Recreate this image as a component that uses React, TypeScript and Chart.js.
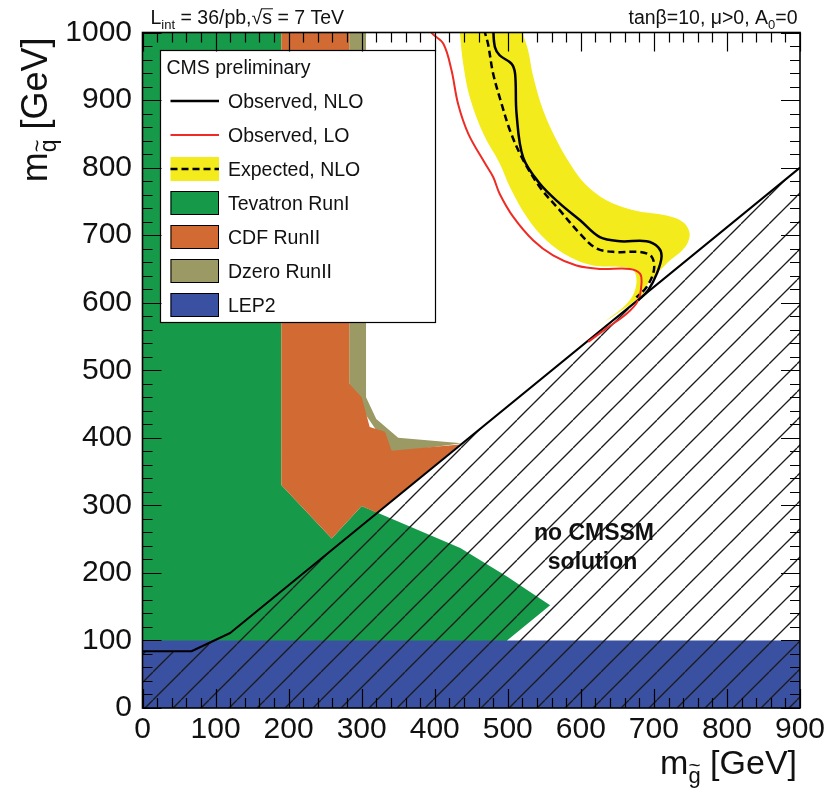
import React, { useEffect, useRef } from 'react';
import { Chart, registerables } from 'chart.js';

Chart.register(...registerables);

const FONT = "'Liberation Sans', Arial, Helvetica, sans-serif";

// Axis ticks (GeV)
const xTickValues = [0, 100, 200, 300, 400, 500, 600, 700, 800, 900];
const yTickValues = [0, 100, 200, 300, 400, 500, 600, 700, 800, 900, 1000];

// Observed NLO exclusion contour: gluino mass (x) vs squark mass (y), GeV
const obsNloX = [480, 482.5, 489, 505, 510, 512, 521, 544, 571, 599, 626, 654, 690, 706, 710.5, 704, 692, 678.5];
const obsNloY = [1005, 978, 966, 954, 939, 880, 815, 776, 747, 722, 697, 691, 691, 682, 668, 643, 618, 603.5];

// Observed LO exclusion contour
const obsLoX = [394, 396, 412, 423, 432, 446, 469, 480, 489, 507.5, 535, 562, 594, 626, 667, 681, 683, 678.5, 663, 635, 610];
const obsLoY = [1005, 999, 983, 944, 894, 850, 806, 786, 761, 727, 692, 670, 655, 650, 650, 643, 628, 603.5, 584, 562, 542];

// Expected NLO exclusion contour
const expNloX = [468, 469, 473, 480, 491.5, 503, 519, 544, 571, 599, 622, 649, 681, 697, 700, 690, 676];
const expNloY = [1005, 999, 983, 939, 894.5, 855, 815.5, 771, 737, 702, 680, 675, 675, 668, 648, 623, 608];

// Expected +-1 sigma band: outer edge (top to bottom), then inner edge (bottom to top)
const bandOuterX = [522, 521, 528, 535, 548.5, 567, 585, 605.5, 635, 672, 717.5, 740, 749, 742.5, 717.5, 692, 683, 640, 590];
const bandOuterY = [1010, 999, 973, 934, 884.5, 840, 806, 776, 751.5, 737, 729, 719, 702, 682, 658, 628, 611, 577, 544];
const bandInnerX = [635, 667, 676, 672, 654, 617, 585, 553, 526, 503, 489, 466.5, 448, 439, 434.5, 434];
const bandInnerY = [574, 603.5, 628, 648, 653, 655, 667.5, 692, 727, 771, 806, 850, 904, 953.5, 999, 1010];

// Boundary of the region with no CMSSM solution
const noSolX = [0, 67, 120, 900];
const noSolY = [84, 84, 111, 800];

// Excluded regions from earlier experiments
const tevatronX = [0, 0, 190, 190, 259, 300, 435, 500, 526, 558, 499, 499];
const tevatronY = [0, 1000, 1000, 330, 251, 299, 237, 194, 175, 152, 100, 0];

const cdfX = [190, 190, 283, 283, 300, 311, 332, 341, 434, 321, 300, 259];
const cdfY = [330, 1000, 1000, 480, 460, 416, 409, 381, 390, 289, 299, 251];

const dzeroX = [283, 283, 306, 306, 320, 350, 437, 341];
const dzeroY = [470, 1000, 1000, 460, 428, 400, 392, 378];

const lep2X = [0, 0, 900, 900];
const lep2Y = [0, 100, 100, 0];

const COLORS = {
  tevatron: '#17994a',
  cdf: '#d16a33',
  dzero: '#9b9a64',
  lep2: '#3a51a2',
  band: '#f3eb1c',
  red: '#ee2b24',
};

type Pt = { x: number; y: number };

const toPoints = (xs: number[], ys: number[]): Pt[] => xs.map((x, i) => ({ x, y: ys[i] }));

function hatchPattern(): CanvasPattern | string {
  const s = 28;
  const c = document.createElement('canvas');
  c.width = s;
  c.height = s;
  const g = c.getContext('2d');
  if (!g) return 'transparent';
  g.strokeStyle = '#1b1b1b';
  g.lineWidth = 1.3;
  for (const k of [-1, 0, 1]) {
    g.beginPath();
    g.moveTo(k * s, s);
    g.lineTo(k * s + s, 0);
    g.stroke();
  }
  const p = g.createPattern(c, 'repeat');
  if (!p) return 'transparent';
  if (typeof DOMMatrix !== 'undefined') p.setTransform(new DOMMatrix([1, 0, 0, 1, 13, 0]));
  return p;
}

type Run = { text: string; size: number; dy?: number; tilde?: boolean; overline?: boolean };

function runsWidth(ctx: CanvasRenderingContext2D, runs: Run[]) {
  let w = 0;
  for (const r of runs) {
    ctx.font = `${r.size}px ${FONT}`;
    w += ctx.measureText(r.text).width;
  }
  return w;
}

function drawRuns(ctx: CanvasRenderingContext2D, runs: Run[], x: number, y: number) {
  let cx = x;
  for (const r of runs) {
    ctx.font = `${r.size}px ${FONT}`;
    const w = ctx.measureText(r.text).width;
    const by = y + (r.dy || 0);
    ctx.fillText(r.text, cx, by);
    if (r.tilde) {
      ctx.save();
      ctx.font = `${r.size * 0.95}px ${FONT}`;
      ctx.textAlign = 'center';
      ctx.fillText('~', cx + w / 2, by - r.size * 0.52);
      ctx.restore();
    }
    if (r.overline) {
      ctx.save();
      ctx.lineWidth = 1;
      ctx.beginPath();
      ctx.moveTo(cx - 1, by - r.size * 0.78);
      ctx.lineTo(cx + w + 1, by - r.size * 0.78);
      ctx.stroke();
      ctx.restore();
    }
    cx += w;
  }
}

type LegendItem = { label: string; kind: 'line' | 'band' | 'box'; color: string; width?: number };

const legendItems: LegendItem[] = [
  { label: 'Observed, NLO', kind: 'line', color: '#000000', width: 2.5 },
  { label: 'Observed, LO', kind: 'line', color: COLORS.red, width: 2 },
  { label: 'Expected, NLO', kind: 'band', color: COLORS.band },
  { label: 'Tevatron RunI', kind: 'box', color: COLORS.tevatron },
  { label: 'CDF RunII', kind: 'box', color: COLORS.cdf },
  { label: 'Dzero RunII', kind: 'box', color: COLORS.dzero },
  { label: 'LEP2', kind: 'box', color: COLORS.lep2 },
];

function drawLegend(ctx: CanvasRenderingContext2D, area: { left: number; top: number }) {
  const L = area.left + 17.5;
  const T = area.top + 17.5;
  const W = 275;
  const H = 272;
  ctx.save();
  ctx.fillStyle = '#ffffff';
  ctx.fillRect(L, T, W, H);
  ctx.strokeStyle = '#000';
  ctx.lineWidth = 1.2;
  ctx.strokeRect(L + 0.5, T + 0.5, W, H);
  ctx.fillStyle = '#111';
  ctx.font = `19.5px ${FONT}`;
  ctx.textBaseline = 'alphabetic';
  ctx.textAlign = 'left';
  ctx.fillText('CMS preliminary', L + 6.5, T + 23.5);
  legendItems.forEach((item, i) => {
    const cy = T + 51 + i * 34;
    const sx = L + 10.5;
    const sw = 48.5;
    if (item.kind === 'line') {
      ctx.strokeStyle = item.color;
      ctx.lineWidth = item.width || 2;
      ctx.beginPath();
      ctx.moveTo(sx, cy);
      ctx.lineTo(sx + sw, cy);
      ctx.stroke();
    } else if (item.kind === 'band') {
      ctx.fillStyle = item.color;
      ctx.fillRect(sx, cy - 12, sw, 24);
      ctx.strokeStyle = '#000';
      ctx.lineWidth = 2.5;
      ctx.setLineDash([7, 4]);
      ctx.beginPath();
      ctx.moveTo(sx, cy);
      ctx.lineTo(sx + sw, cy);
      ctx.stroke();
      ctx.setLineDash([]);
    } else {
      ctx.fillStyle = item.color;
      ctx.fillRect(sx, cy - 12, sw, 24);
      ctx.strokeStyle = '#000';
      ctx.lineWidth = 1;
      ctx.strokeRect(sx + 0.5, cy - 12 + 0.5, sw - 1, 23);
    }
    ctx.fillStyle = '#111';
    ctx.font = `19.5px ${FONT}`;
    ctx.fillText(item.label, L + 68, cy + 7);
  });
  ctx.restore();
}

function drawFrameAndTicks(chart: Chart) {
  const { ctx, chartArea: a } = chart;
  const xs = chart.scales.x;
  const ys = chart.scales.y;
  ctx.save();
  ctx.strokeStyle = '#000';
  ctx.lineWidth = 1.2;
  ctx.beginPath();
  for (let v = 0; v <= 900; v += 20) {
    const px = Math.round(xs.getPixelForValue(v)) + 0.5;
    const len = v % 100 === 0 ? 19 : 10;
    ctx.moveTo(px, a.bottom);
    ctx.lineTo(px, a.bottom - len);
    ctx.moveTo(px, a.top);
    ctx.lineTo(px, a.top + len);
  }
  for (let v = 0; v <= 1000; v += 20) {
    const py = Math.round(ys.getPixelForValue(v)) + 0.5;
    const len = v % 100 === 0 ? 19 : 10;
    ctx.moveTo(a.left, py);
    ctx.lineTo(a.left + len, py);
    ctx.moveTo(a.right, py);
    ctx.lineTo(a.right - len, py);
  }
  ctx.stroke();
  ctx.lineWidth = 1.6;
  ctx.strokeRect(a.left, a.top, a.right - a.left, a.bottom - a.top);
  ctx.restore();
}

const overlayPlugin = {
  id: 'cmsOverlay',
  afterDatasetsDraw(chart: Chart) {
    const { ctx, chartArea } = chart;
    drawLegend(ctx, chartArea);
    drawFrameAndTicks(chart);

    // label inside the region without a CMSSM solution
    const xs = chart.scales.x;
    const ys = chart.scales.y;
    ctx.save();
    ctx.fillStyle = '#111';
    ctx.textAlign = 'center';
    ctx.textBaseline = 'alphabetic';
    ctx.font = `bold 23px ${FONT}`;
    ctx.fillText('no CMSSM', xs.getPixelForValue(618), ys.getPixelForValue(249));
    ctx.fillText('solution', xs.getPixelForValue(616), ys.getPixelForValue(206));
    ctx.restore();
  },
  afterDraw(chart: Chart) {
    const { ctx, chartArea: a } = chart;
    ctx.save();
    ctx.fillStyle = '#111';
    ctx.strokeStyle = '#111';
    ctx.textBaseline = 'alphabetic';
    ctx.textAlign = 'left';

    // header lines above the frame
    const left: Run[] = [
      { text: 'L', size: 19.5 },
      { text: 'int', size: 13, dy: 4.5 },
      { text: ' = 36/pb,', size: 19.5 },
      { text: '\u221A', size: 19.5 },
      { text: 's', size: 19.5, overline: true },
      { text: ' = 7 TeV', size: 19.5 },
    ];
    drawRuns(ctx, left, a.left + 8, 24);
    const right: Run[] = [
      { text: 'tan\u03B2=10, \u03BC>0, A', size: 19.5 },
      { text: '0', size: 13, dy: 4.5 },
      { text: '=0', size: 19.5 },
    ];
    drawRuns(ctx, right, a.right - 2.5 - runsWidth(ctx, right), 24);

    // x-axis title: m_g~ [GeV]
    const xTitle: Run[] = [
      { text: 'm', size: 34 },
      { text: 'g', size: 22, dy: 9, tilde: true },
      { text: ' [GeV]', size: 34 },
    ];
    drawRuns(ctx, xTitle, a.right - 3 - runsWidth(ctx, xTitle), 774);

    // y-axis title: m_q~ [GeV], rotated
    const yTitle: Run[] = [
      { text: 'm', size: 36 },
      { text: 'q', size: 23, dy: 9, tilde: true },
      { text: ' [GeV]', size: 36 },
    ];
    ctx.translate(47, a.top + 5 + runsWidth(ctx, yTitle));
    ctx.rotate(-Math.PI / 2);
    drawRuns(ctx, yTitle, 0, 0);
    ctx.restore();
  },
};

export default function App() {
  const canvasRef = useRef<HTMLCanvasElement | null>(null);

  useEffect(() => {
    const canvas = canvasRef.current;
    if (!canvas) return;
    document.body.style.margin = '0';

    // Filled regions: closed outlines filled inside ('shape'); indexed along y so the
    // fill is not limited to the x range between the first and last vertex.
    const fillSet = (label: string, pts: Pt[], color: string | CanvasPattern, order: number, tension = 0) => ({
      label,
      data: pts,
      indexAxis: 'y',
      fill: 'shape',
      tension,
      backgroundColor: color,
      borderColor: 'transparent',
      borderWidth: 0,
      pointRadius: 0,
      order,
    });
    const lineSet = (label: string, pts: Pt[], color: string, width: number, order: number, dash: number[] = [], tension = 0) => ({
      label,
      data: pts,
      fill: false,
      tension,
      borderColor: color,
      backgroundColor: color,
      borderWidth: width,
      borderDash: dash,
      borderJoinStyle: 'round',
      borderCapStyle: 'butt',
      pointRadius: 0,
      order,
    });

    const bandPoly = toPoints([...bandOuterX, ...bandInnerX], [...bandOuterY, ...bandInnerY]);
    const hatchPoly = toPoints([...noSolX, 900, 0], [...noSolY, 0, 0]);

    const chart = new Chart(canvas, {
      type: 'line',
      data: {
        datasets: [
          lineSet('Observed, NLO', toPoints(obsNloX, obsNloY), '#000000', 2.5, 0, [], 0.35),
          lineSet('Observed, LO', toPoints(obsLoX, obsLoY), COLORS.red, 2, 1, [], 0.35),
          lineSet('Expected, NLO', toPoints(expNloX, expNloY), '#000000', 2.5, 2, [7, 4], 0.35),
          lineSet('no CMSSM solution boundary', toPoints(noSolX, noSolY), '#000000', 2, 3),
          fillSet('no CMSSM solution', hatchPoly, hatchPattern(), 4),
          fillSet('Expected, NLO band', bandPoly, COLORS.band, 5, 0.35),
          fillSet('LEP2', toPoints(lep2X, lep2Y), COLORS.lep2, 6),
          fillSet('CDF RunII', toPoints(cdfX, cdfY), COLORS.cdf, 7),
          fillSet('Dzero RunII', toPoints(dzeroX, dzeroY), COLORS.dzero, 8),
          fillSet('Tevatron RunI', toPoints(tevatronX, tevatronY), COLORS.tevatron, 9),
        ] as any,
      },
      options: {
        responsive: false,
        animation: false,
        events: [],
        layout: { padding: { left: 0, right: 35, top: 32.5, bottom: 0 } },
        plugins: { legend: { display: false }, tooltip: { enabled: false } },
        elements: { point: { radius: 0, hitRadius: 0 } },
        scales: {
          x: {
            type: 'linear',
            min: 0,
            max: 900,
            afterBuildTicks: (s: any) => {
              s.ticks = xTickValues.map((value) => ({ value }));
            },
            afterFit: (s: any) => {
              s.height = 85;
            },
            ticks: {
              font: { family: FONT, size: 30 },
              color: '#111',
              padding: 4,
              maxRotation: 0,
              autoSkip: false,
              callback: (v: number | string) => String(v),
            },
            grid: { display: false, drawTicks: false },
            border: { display: false },
          },
          y: {
            type: 'linear',
            min: 0,
            max: 1000,
            afterBuildTicks: (s: any) => {
              s.ticks = yTickValues.map((value) => ({ value }));
            },
            afterFit: (s: any) => {
              s.width = 142.5;
            },
            ticks: {
              font: { family: FONT, size: 30 },
              color: '#111',
              padding: 10.5,
              autoSkip: false,
              callback: (v: number | string) => String(v),
            },
            grid: { display: false, drawTicks: false },
            border: { display: false },
          },
        },
      } as any,
      plugins: [overlayPlugin as any],
    });

    return () => chart.destroy();
  }, []);

  return (
    <div style={{ position: 'absolute', left: 0, top: 0, width: 835, height: 793, background: '#fff' }}>
      <canvas ref={canvasRef} width={835} height={793} style={{ display: 'block' }} />
    </div>
  );
}
